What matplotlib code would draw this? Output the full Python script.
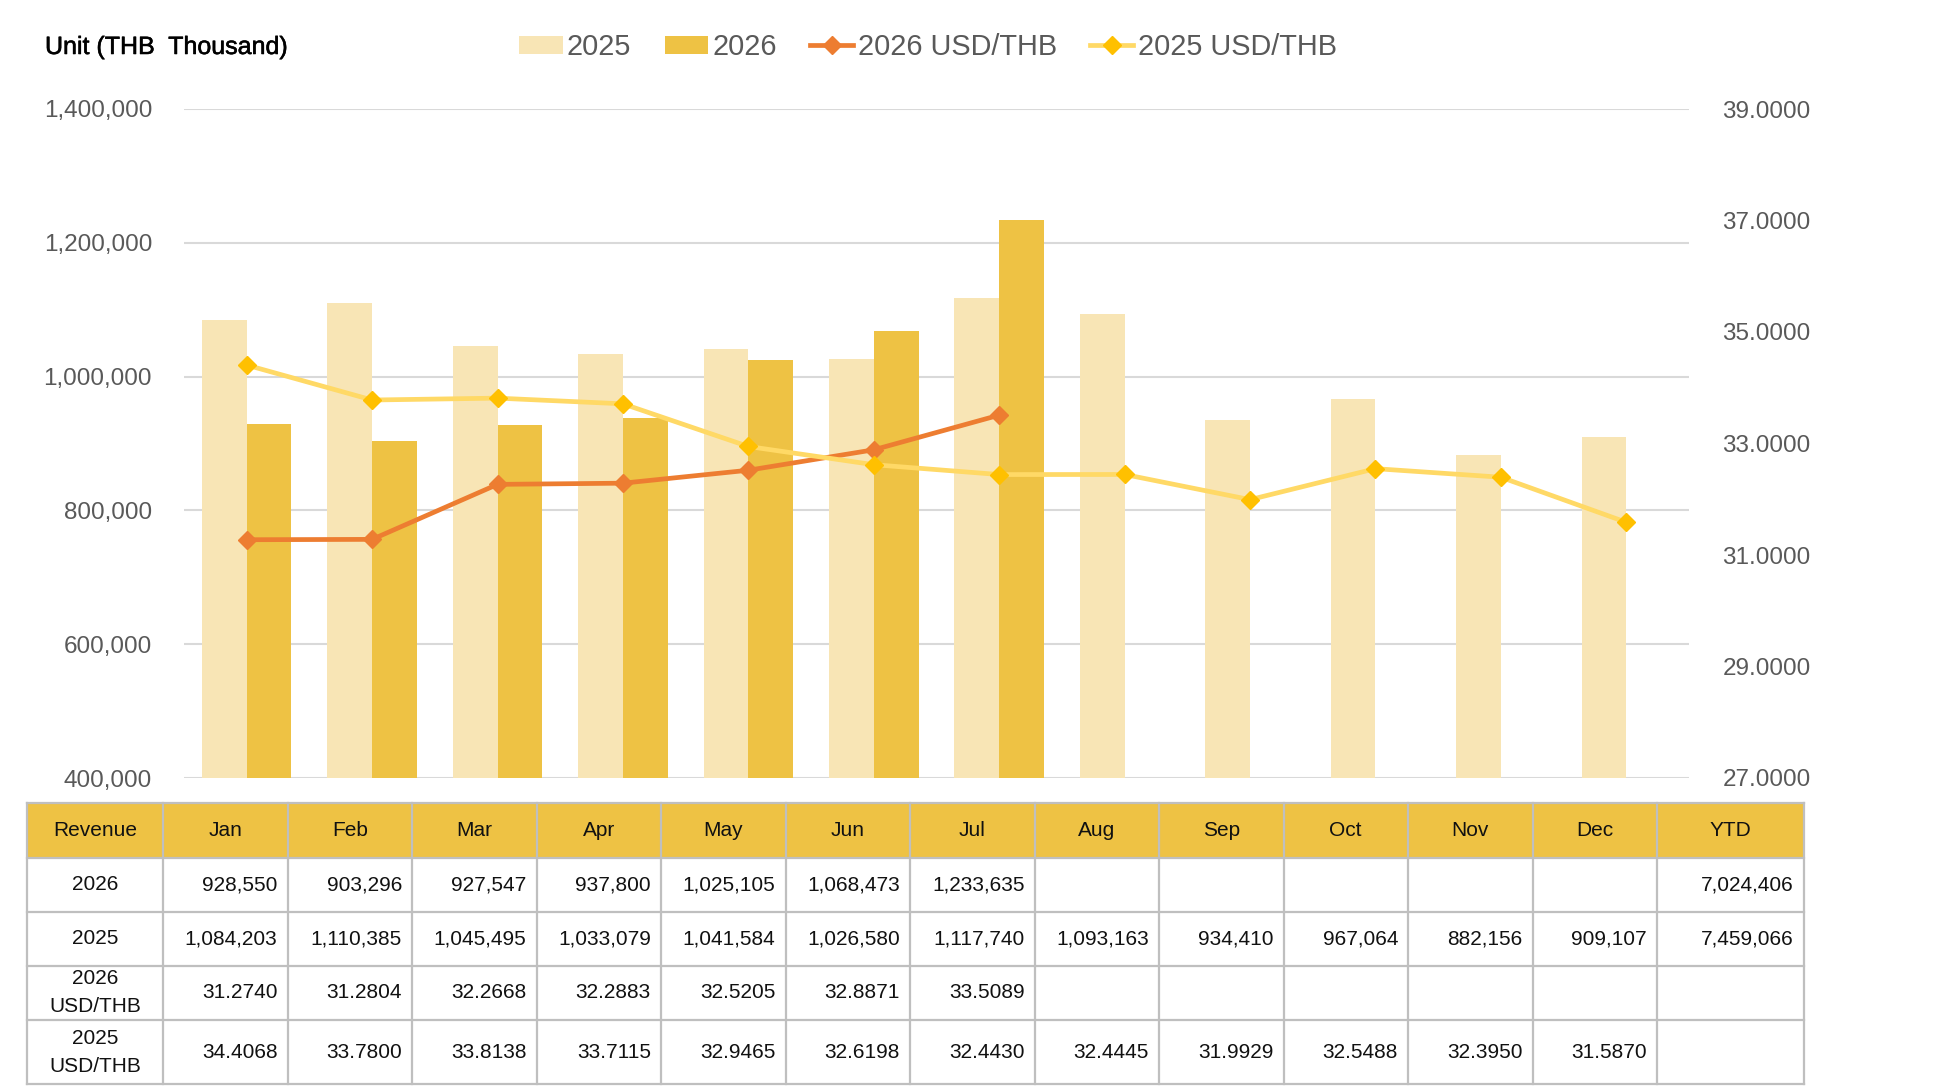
import matplotlib
matplotlib.use("Agg")
import matplotlib.pyplot as plt
from matplotlib.patches import Patch, Rectangle
from matplotlib.lines import Line2D
from matplotlib.ticker import FuncFormatter, FixedLocator
import matplotlib.patheffects as pe
import numpy as np

plt.rcParams['font.family'] = ['Liberation Sans', 'DejaVu Sans']

# ---------------- data ----------------
months = ["Jan", "Feb", "Mar", "Apr", "May", "Jun", "Jul", "Aug", "Sep", "Oct", "Nov", "Dec"]
rev_2026 = [928550, 903296, 927547, 937800, 1025105, 1068473, 1233635]
rev_2025 = [1084203, 1110385, 1045495, 1033079, 1041584, 1026580, 1117740,
            1093163, 934410, 967064, 882156, 909107]
fx_2026 = [31.2740, 31.2804, 32.2668, 32.2883, 32.5205, 32.8871, 33.5089]
fx_2025 = [34.4068, 33.7800, 33.8138, 33.7115, 32.9465, 32.6198, 32.4430,
           32.4445, 31.9929, 32.5488, 32.3950, 31.5870]
ytd_2026 = 7024406
ytd_2025 = 7459066
left_ticks = [400000, 600000, 800000, 1000000, 1200000, 1400000]
right_ticks = [27, 29, 31, 33, 35, 37, 39]
row_labels = ["2026", "2025", "2026\nUSD/THB", "2025\nUSD/THB"]

# ---------------- styling ----------------
C_2025 = "#F8E5B5"
C_2026 = "#EEC244"
C_L26 = "#ED7D31"
C_L25 = "#FFD966"
C_M25 = "#FFC000"
GRID = "#D9D9D9"
TICK = "#595959"
BORDER = "#BFBFBF"

W, H = 1938, 1087
fig = plt.figure(figsize=(W / 100, H / 100), dpi=100)

# plot area
L, R, T, B = 184, 1689, 109, 778
ax = fig.add_axes([L / W, 1 - B / H, (R - L) / W, (B - T) / H])
x = np.arange(len(months))
bw = 0.357
ax.bar(x[:len(rev_2025)] - bw / 2, rev_2025, bw, color=C_2025, zorder=2)
ax.bar(x[:len(rev_2026)] + bw / 2, rev_2026, bw, color=C_2026, zorder=2)
ax.set_xlim(-0.5, len(months) - 0.5)
ax.set_ylim(left_ticks[0], left_ticks[-1])
ax.yaxis.set_major_locator(FixedLocator(left_ticks))
ax.yaxis.set_major_formatter(FuncFormatter(lambda v, p: f"{v:,.0f}"))
ax.grid(axis='y', color=GRID, linewidth=1.5, zorder=0)
ax.set_axisbelow(True)
ax.set_xticks([])
for s in ax.spines.values():
    s.set_visible(False)
ax.tick_params(axis='y', length=0, pad=23, labelsize=17.5, labelcolor=TICK)

ax2 = ax.twinx()
ax2.plot(x[:len(fx_2026)], fx_2026, color=C_L26, lw=3.4, marker='D', ms=9.5,
         mfc=C_L26, mec=C_L26, zorder=3, solid_capstyle='round')
ax2.plot(x[:len(fx_2025)], fx_2025, color=C_L25, lw=3.4, marker='D', ms=9.5,
         mfc=C_M25, mec=C_M25, zorder=4, solid_capstyle='round')
ax2.set_ylim(right_ticks[0], right_ticks[-1])
ax2.yaxis.set_major_locator(FixedLocator(right_ticks))
ax2.yaxis.set_major_formatter(FuncFormatter(lambda v, p: f"{v:.4f}"))
for s in ax2.spines.values():
    s.set_visible(False)
ax2.tick_params(axis='y', length=0, pad=24, labelsize=17.5, labelcolor=TICK)
ax2.set_xlim(-0.5, len(months) - 0.5)

# title/unit
fig.text(45 / W, 1 - 47 / H, "Unit (THB  Thousand)", fontsize=18, color="black",
         ha='left', va='center',
         path_effects=[pe.withStroke(linewidth=0.4, foreground="black")])

# legend
handles = [
    Patch(facecolor=C_2025, edgecolor='none'),
    Patch(facecolor=C_2026, edgecolor='none'),
    Line2D([], [], color=C_L26, lw=3.4, marker='D', ms=9, mfc=C_L26, mec=C_L26),
    Line2D([], [], color=C_L25, lw=3.4, marker='D', ms=9, mfc=C_M25, mec=C_M25),
]
labels = ["2025", "2026", "2026 USD/THB", "2025 USD/THB"]
leg = fig.legend(handles, labels, loc='center', bbox_to_anchor=(928 / W, 1 - 47 / H),
                 ncol=4, frameon=False, fontsize=20.8, handlelength=1.5,
                 handleheight=0.6, handletextpad=0.15, columnspacing=1.15,
                 labelcolor=TICK)

# ---------------- table ----------------
TX0, TY0, TX1, TY1 = 27, 803, 1804, 1084
tax = fig.add_axes([TX0 / W, 1 - TY1 / H, (TX1 - TX0) / W, (TY1 - TY0) / H])
tw, th = TX1 - TX0, TY1 - TY0
tax.set_xlim(0, tw)
tax.set_ylim(th, 0)
tax.axis('off')

col_w = [136] + [124.5] * 12 + [147]
col_e = np.concatenate([[0], np.cumsum(col_w)])
row_e = [0, 55, 109, 163, 217, th]

header = ["Revenue"] + months + ["YTD"]
body = []
body.append([row_labels[0]] + [f"{v:,.0f}" for v in rev_2026] + [""] * (12 - len(rev_2026)) + [f"{ytd_2026:,.0f}"])
body.append([row_labels[1]] + [f"{v:,.0f}" for v in rev_2025] + [""] * (12 - len(rev_2025)) + [f"{ytd_2025:,.0f}"])
body.append([row_labels[2]] + [f"{v:.4f}" for v in fx_2026] + [""] * (12 - len(fx_2026)) + [""])
body.append([row_labels[3]] + [f"{v:.4f}" for v in fx_2025] + [""] * (12 - len(fx_2025)) + [""])

TXT = "#111111"
FS = 15
# header
tax.add_patch(Rectangle((0, row_e[0]), tw, row_e[1] - row_e[0], facecolor=C_2026,
                        edgecolor='none', clip_on=False))
for j, lab in enumerate(header):
    cx = (col_e[j] + col_e[j + 1]) / 2
    tax.text(cx, (row_e[0] + row_e[1]) / 2, lab, ha='center', va='center',
             fontsize=FS, color=TXT)
for i, row in enumerate(body):
    y0, y1 = row_e[i + 1], row_e[i + 2]
    cy = (y0 + y1) / 2
    for j, val in enumerate(row):
        if not val:
            continue
        if j == 0:
            tax.text((col_e[0] + col_e[1]) / 2, cy, val, ha='center', va='center',
                     fontsize=FS, color=TXT, linespacing=1.6)
        else:
            tax.text(col_e[j + 1] - 10, cy, val, ha='right', va='center',
                     fontsize=FS, color=TXT)
# grid lines
for xe in col_e:
    tax.plot([xe, xe], [0, th], color=BORDER, lw=1.6, clip_on=False, solid_capstyle='projecting')
for ye in row_e:
    tax.plot([0, tw], [ye, ye], color=BORDER, lw=1.6, clip_on=False, solid_capstyle='projecting')

fig.savefig("out.png", dpi=100, facecolor="white")
